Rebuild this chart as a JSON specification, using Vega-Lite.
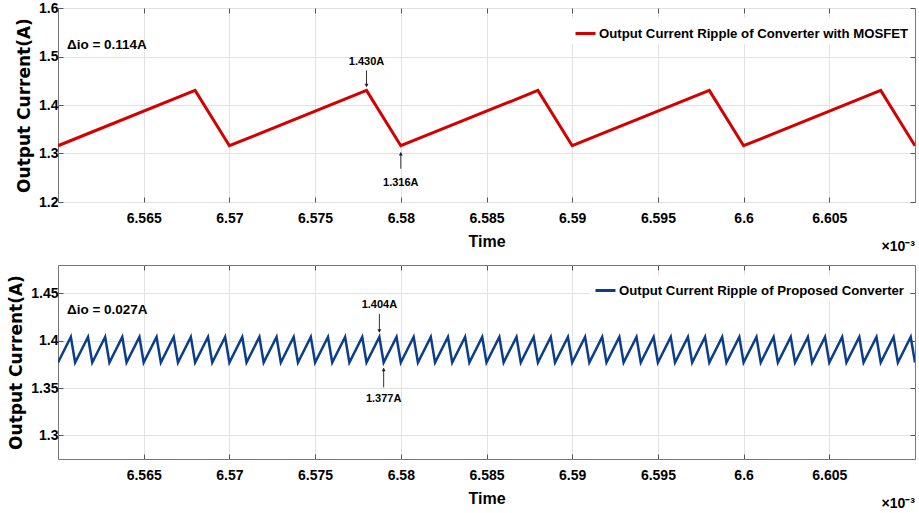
{
  "$schema": "https://vega.github.io/schema/vega-lite/v6.json",
  "background": "white",
  "padding": {"left": 7, "top": 0, "right": 3, "bottom": 2},
  "spacing": 9,
  "config": {
    "font": "Liberation Sans",
    "view": {"stroke": "#777777", "strokeWidth": 1},
    "axis": {
      "labelFont": "Liberation Sans",
      "labelFontWeight": "bold",
      "labelFontSize": 14,
      "labelColor": "#000000",
      "titleColor": "#000000",
      "titleFontWeight": "bold",
      "gridColor": "#e2e2e2",
      "gridWidth": 1,
      "domain": false,
      "tickColor": "#555555",
      "tickSize": -5,
      "labelOverlap": false,
      "labelFlush": false
    },
    "text": {"font": "Liberation Sans", "fontWeight": "bold", "color": "#000000"}
  },
  "datasets": {
    "mosfet": [
      {"t": 6.56, "i": 1.316}, {"t": 6.568, "i": 1.43}, {"t": 6.57, "i": 1.316},
      {"t": 6.578, "i": 1.43}, {"t": 6.58, "i": 1.316}, {"t": 6.588, "i": 1.43},
      {"t": 6.59, "i": 1.316}, {"t": 6.598, "i": 1.43}, {"t": 6.6, "i": 1.316},
      {"t": 6.608, "i": 1.43}, {"t": 6.61, "i": 1.316}
    ],
    "mosfetNotes": [
      {"t": 6.578, "i": 1.43, "label": "1.430A", "kind": "peak"},
      {"t": 6.58, "i": 1.316, "label": "1.316A", "kind": "valley"}
    ],
    "proposed": [
      {"t": 6.56, "i": 1.377}, {"t": 6.56075, "i": 1.404}, {"t": 6.561, "i": 1.377}, {"t": 6.56175, "i": 1.404},
      {"t": 6.562, "i": 1.377}, {"t": 6.56275, "i": 1.404}, {"t": 6.563, "i": 1.377}, {"t": 6.56375, "i": 1.404},
      {"t": 6.564, "i": 1.377}, {"t": 6.56475, "i": 1.404}, {"t": 6.565, "i": 1.377}, {"t": 6.56575, "i": 1.404},
      {"t": 6.566, "i": 1.377}, {"t": 6.56675, "i": 1.404}, {"t": 6.567, "i": 1.377}, {"t": 6.56775, "i": 1.404},
      {"t": 6.568, "i": 1.377}, {"t": 6.56875, "i": 1.404}, {"t": 6.569, "i": 1.377}, {"t": 6.56975, "i": 1.404},
      {"t": 6.57, "i": 1.377}, {"t": 6.57075, "i": 1.404}, {"t": 6.571, "i": 1.377}, {"t": 6.57175, "i": 1.404},
      {"t": 6.572, "i": 1.377}, {"t": 6.57275, "i": 1.404}, {"t": 6.573, "i": 1.377}, {"t": 6.57375, "i": 1.404},
      {"t": 6.574, "i": 1.377}, {"t": 6.57475, "i": 1.404}, {"t": 6.575, "i": 1.377}, {"t": 6.57575, "i": 1.404},
      {"t": 6.576, "i": 1.377}, {"t": 6.57675, "i": 1.404}, {"t": 6.577, "i": 1.377}, {"t": 6.57775, "i": 1.404},
      {"t": 6.578, "i": 1.377}, {"t": 6.57875, "i": 1.404}, {"t": 6.579, "i": 1.377}, {"t": 6.57975, "i": 1.404},
      {"t": 6.58, "i": 1.377}, {"t": 6.58075, "i": 1.404}, {"t": 6.581, "i": 1.377}, {"t": 6.58175, "i": 1.404},
      {"t": 6.582, "i": 1.377}, {"t": 6.58275, "i": 1.404}, {"t": 6.583, "i": 1.377}, {"t": 6.58375, "i": 1.404},
      {"t": 6.584, "i": 1.377}, {"t": 6.58475, "i": 1.404}, {"t": 6.585, "i": 1.377}, {"t": 6.58575, "i": 1.404},
      {"t": 6.586, "i": 1.377}, {"t": 6.58675, "i": 1.404}, {"t": 6.587, "i": 1.377}, {"t": 6.58775, "i": 1.404},
      {"t": 6.588, "i": 1.377}, {"t": 6.58875, "i": 1.404}, {"t": 6.589, "i": 1.377}, {"t": 6.58975, "i": 1.404},
      {"t": 6.59, "i": 1.377}, {"t": 6.59075, "i": 1.404}, {"t": 6.591, "i": 1.377}, {"t": 6.59175, "i": 1.404},
      {"t": 6.592, "i": 1.377}, {"t": 6.59275, "i": 1.404}, {"t": 6.593, "i": 1.377}, {"t": 6.59375, "i": 1.404},
      {"t": 6.594, "i": 1.377}, {"t": 6.59475, "i": 1.404}, {"t": 6.595, "i": 1.377}, {"t": 6.59575, "i": 1.404},
      {"t": 6.596, "i": 1.377}, {"t": 6.59675, "i": 1.404}, {"t": 6.597, "i": 1.377}, {"t": 6.59775, "i": 1.404},
      {"t": 6.598, "i": 1.377}, {"t": 6.59875, "i": 1.404}, {"t": 6.599, "i": 1.377}, {"t": 6.59975, "i": 1.404},
      {"t": 6.6, "i": 1.377}, {"t": 6.60075, "i": 1.404}, {"t": 6.601, "i": 1.377}, {"t": 6.60175, "i": 1.404},
      {"t": 6.602, "i": 1.377}, {"t": 6.60275, "i": 1.404}, {"t": 6.603, "i": 1.377}, {"t": 6.60375, "i": 1.404},
      {"t": 6.604, "i": 1.377}, {"t": 6.60475, "i": 1.404}, {"t": 6.605, "i": 1.377}, {"t": 6.60575, "i": 1.404},
      {"t": 6.606, "i": 1.377}, {"t": 6.60675, "i": 1.404}, {"t": 6.607, "i": 1.377}, {"t": 6.60775, "i": 1.404},
      {"t": 6.608, "i": 1.377}, {"t": 6.60875, "i": 1.404}, {"t": 6.609, "i": 1.377}, {"t": 6.60975, "i": 1.404},
      {"t": 6.61, "i": 1.377}
    ],
    "proposedNotes": [
      {"t": 6.57875, "i": 1.404, "label": "1.404A", "kind": "peak"},
      {"t": 6.579, "i": 1.377, "label": "1.377A", "kind": "valley"}
    ],
    "mosfetRipple": [{"label": "Δio = 0.114A"}],
    "proposedRipple": [{"label": "Δio = 0.027A"}],
    "timeScale": [{"label": "×10⁻³"}]
  },
  "resolve": {
    "scale": {"x": "independent", "y": "independent", "color": "independent"},
    "legend": {"color": "independent"}
  },
  "vconcat": [
    {
      "width": 857,
      "height": 194,
      "resolve": {"axis": {"x": "independent", "y": "independent"}},
      "layer": [
        {
          "data": {"name": "mosfet"},
          "mark": {"type": "line", "strokeWidth": 3, "clip": true},
          "encoding": {
            "x": {
              "field": "t", "type": "quantitative",
              "scale": {"domain": [6.56, 6.61], "nice": false, "zero": false},
              "axis": {
                "orient": "bottom",
                "values": [6.565, 6.57, 6.575, 6.58, 6.585, 6.59, 6.595, 6.6, 6.605],
                "format": ".3~f",
                "title": "Time",
                "titleFont": "Liberation Sans",
                "titleFontSize": 16,
                "labelPadding": 14,
                "titlePadding": 8
              }
            },
            "y": {
              "field": "i", "type": "quantitative",
              "scale": {"domain": [1.2, 1.6], "nice": false, "zero": false},
              "axis": {
                "orient": "left",
                "values": [1.2, 1.3, 1.4, 1.5, 1.6],
                "format": ".1f",
                "title": "Output Current(A)",
                "titleFont": "DejaVu Sans",
                "titleFontSize": 17,
                "labelPadding": 5,
                "titlePadding": 5
              }
            },
            "color": {
              "datum": "Output Current Ripple of Converter with MOSFET",
              "type": "nominal",
              "scale": {"range": ["#d40000"]},
              "legend": {
                "orient": "none", "legendX": 512, "legendY": 10,
                "title": null, "symbolType": "stroke", "symbolStrokeWidth": 3,
                "symbolSize": 400, "labelFont": "Liberation Sans", "labelFontWeight": "bold",
                "labelFontSize": 13.2, "labelColor": "#000000", "labelOffset": 2,
                "fillColor": "white", "padding": 4, "labelLimit": 400
              }
            }
          }
        },
        {
          "data": {"name": "mosfet"},
          "mark": {"type": "line", "opacity": 0},
          "encoding": {
            "x": {
              "field": "t", "type": "quantitative",
              "axis": {"orient": "top", "values": [6.565, 6.57, 6.575, 6.58, 6.585, 6.59, 6.595, 6.6, 6.605], "labels": false, "grid": false, "title": null}
            },
            "y": {
              "field": "i", "type": "quantitative",
              "axis": {"orient": "right", "values": [1.2, 1.3, 1.4, 1.5, 1.6], "labels": false, "grid": false, "title": null}
            }
          }
        },
        {
          "data": {"name": "mosfetNotes"},
          "transform": [{"filter": "datum.kind === 'peak'"}],
          "layer": [
            {
              "mark": {"type": "rule", "color": "#333333", "strokeWidth": 1, "yOffset": -20, "y2Offset": -4},
              "encoding": {
                "x": {"field": "t", "type": "quantitative", "axis": null},
                "y": {"field": "i", "type": "quantitative", "axis": null},
                "y2": {"field": "i"}
              }
            },
            {
              "mark": {"type": "point", "shape": "triangle-down", "filled": true, "color": "#222222", "size": 16, "yOffset": -5, "opacity": 1},
              "encoding": {
                "x": {"field": "t", "type": "quantitative", "axis": null},
                "y": {"field": "i", "type": "quantitative", "axis": null}
              }
            },
            {
              "mark": {"type": "text", "fontSize": 11, "dy": -28, "baseline": "middle", "align": "center"},
              "encoding": {
                "x": {"field": "t", "type": "quantitative", "axis": null},
                "y": {"field": "i", "type": "quantitative", "axis": null},
                "text": {"field": "label"}
              }
            }
          ]
        },
        {
          "data": {"name": "mosfetNotes"},
          "transform": [{"filter": "datum.kind === 'valley'"}],
          "layer": [
            {
              "mark": {"type": "rule", "color": "#333333", "strokeWidth": 1, "yOffset": 23, "y2Offset": 7},
              "encoding": {
                "x": {"field": "t", "type": "quantitative", "axis": null},
                "y": {"field": "i", "type": "quantitative", "axis": null},
                "y2": {"field": "i"}
              }
            },
            {
              "mark": {"type": "point", "shape": "triangle-up", "filled": true, "color": "#222222", "size": 16, "yOffset": 8, "opacity": 1},
              "encoding": {
                "x": {"field": "t", "type": "quantitative", "axis": null},
                "y": {"field": "i", "type": "quantitative", "axis": null}
              }
            },
            {
              "mark": {"type": "text", "fontSize": 11, "dy": 37, "baseline": "middle", "align": "center"},
              "encoding": {
                "x": {"field": "t", "type": "quantitative", "axis": null},
                "y": {"field": "i", "type": "quantitative", "axis": null},
                "text": {"field": "label"}
              }
            }
          ]
        },
        {
          "data": {"name": "mosfetRipple"},
          "mark": {"type": "text", "fontSize": 13.5, "align": "left", "baseline": "middle", "dx": 9, "dy": 37},
          "encoding": {
            "x": {"datum": 6.56, "type": "quantitative", "axis": null},
            "y": {"datum": 1.6, "type": "quantitative", "axis": null},
            "text": {"field": "label"}
          }
        },
        {
          "data": {"name": "timeScale"},
          "mark": {"type": "text", "fontSize": 14, "align": "right", "baseline": "middle", "dy": 45},
          "encoding": {
            "x": {"datum": 6.61, "type": "quantitative", "axis": null},
            "y": {"datum": 1.2, "type": "quantitative", "axis": null},
            "text": {"field": "label"}
          }
        }
      ]
    },
    {
      "width": 857,
      "height": 194,
      "resolve": {"axis": {"x": "independent", "y": "independent"}},
      "layer": [
        {
          "data": {"name": "proposed"},
          "mark": {"type": "line", "strokeWidth": 2.5, "clip": true},
          "encoding": {
            "x": {
              "field": "t", "type": "quantitative",
              "scale": {"domain": [6.56, 6.61], "nice": false, "zero": false},
              "axis": {
                "orient": "bottom",
                "values": [6.565, 6.57, 6.575, 6.58, 6.585, 6.59, 6.595, 6.6, 6.605],
                "format": ".3~f",
                "title": "Time",
                "titleFont": "Liberation Sans",
                "titleFontSize": 16,
                "labelPadding": 14,
                "titlePadding": 8
              }
            },
            "y": {
              "field": "i", "type": "quantitative",
              "scale": {"domain": [1.275, 1.48], "nice": false, "zero": false},
              "axis": {
                "orient": "left",
                "values": [1.3, 1.35, 1.4, 1.45],
                "format": ".2~f",
                "title": "Output Current(A)",
                "titleFont": "DejaVu Sans",
                "titleFontSize": 17,
                "labelPadding": 5,
                "titlePadding": 5
              }
            },
            "color": {
              "datum": "Output Current Ripple of Proposed Converter",
              "type": "nominal",
              "scale": {"range": ["#0a3d8c"]},
              "legend": {
                "orient": "none", "legendX": 532, "legendY": 10,
                "title": null, "symbolType": "stroke", "symbolStrokeWidth": 3,
                "symbolSize": 400, "labelFont": "Liberation Sans", "labelFontWeight": "bold",
                "labelFontSize": 13.2, "labelColor": "#000000", "labelOffset": 2,
                "fillColor": "white", "padding": 4, "labelLimit": 400
              }
            }
          }
        },
        {
          "data": {"name": "proposed"},
          "mark": {"type": "line", "opacity": 0},
          "encoding": {
            "x": {
              "field": "t", "type": "quantitative",
              "axis": {"orient": "top", "values": [6.565, 6.57, 6.575, 6.58, 6.585, 6.59, 6.595, 6.6, 6.605], "labels": false, "grid": false, "title": null}
            },
            "y": {
              "field": "i", "type": "quantitative",
              "axis": {"orient": "right", "values": [1.3, 1.35, 1.4, 1.45], "labels": false, "grid": false, "title": null}
            }
          }
        },
        {
          "data": {"name": "proposedNotes"},
          "transform": [{"filter": "datum.kind === 'peak'"}],
          "layer": [
            {
              "mark": {"type": "rule", "color": "#333333", "strokeWidth": 1, "yOffset": -23, "y2Offset": -5},
              "encoding": {
                "x": {"field": "t", "type": "quantitative", "axis": null},
                "y": {"field": "i", "type": "quantitative", "axis": null},
                "y2": {"field": "i"}
              }
            },
            {
              "mark": {"type": "point", "shape": "triangle-down", "filled": true, "color": "#222222", "size": 16, "yOffset": -6, "opacity": 1},
              "encoding": {
                "x": {"field": "t", "type": "quantitative", "axis": null},
                "y": {"field": "i", "type": "quantitative", "axis": null}
              }
            },
            {
              "mark": {"type": "text", "fontSize": 11, "dy": -31.5, "baseline": "middle", "align": "center"},
              "encoding": {
                "x": {"field": "t", "type": "quantitative", "axis": null},
                "y": {"field": "i", "type": "quantitative", "axis": null},
                "text": {"field": "label"}
              }
            }
          ]
        },
        {
          "data": {"name": "proposedNotes"},
          "transform": [{"filter": "datum.kind === 'valley'"}],
          "layer": [
            {
              "mark": {"type": "rule", "color": "#333333", "strokeWidth": 1, "yOffset": 25, "y2Offset": 6},
              "encoding": {
                "x": {"field": "t", "type": "quantitative", "axis": null},
                "y": {"field": "i", "type": "quantitative", "axis": null},
                "y2": {"field": "i"}
              }
            },
            {
              "mark": {"type": "point", "shape": "triangle-up", "filled": true, "color": "#222222", "size": 16, "yOffset": 7, "opacity": 1},
              "encoding": {
                "x": {"field": "t", "type": "quantitative", "axis": null},
                "y": {"field": "i", "type": "quantitative", "axis": null}
              }
            },
            {
              "mark": {"type": "text", "fontSize": 11, "dy": 37, "baseline": "middle", "align": "center"},
              "encoding": {
                "x": {"field": "t", "type": "quantitative", "axis": null},
                "y": {"field": "i", "type": "quantitative", "axis": null},
                "text": {"field": "label"}
              }
            }
          ]
        },
        {
          "data": {"name": "proposedRipple"},
          "mark": {"type": "text", "fontSize": 13.5, "align": "left", "baseline": "middle", "dx": 9, "dy": 45},
          "encoding": {
            "x": {"datum": 6.56, "type": "quantitative", "axis": null},
            "y": {"datum": 1.48, "type": "quantitative", "axis": null},
            "text": {"field": "label"}
          }
        },
        {
          "data": {"name": "timeScale"},
          "mark": {"type": "text", "fontSize": 14, "align": "right", "baseline": "middle", "dy": 45},
          "encoding": {
            "x": {"datum": 6.61, "type": "quantitative", "axis": null},
            "y": {"datum": 1.275, "type": "quantitative", "axis": null},
            "text": {"field": "label"}
          }
        }
      ]
    }
  ]
}
